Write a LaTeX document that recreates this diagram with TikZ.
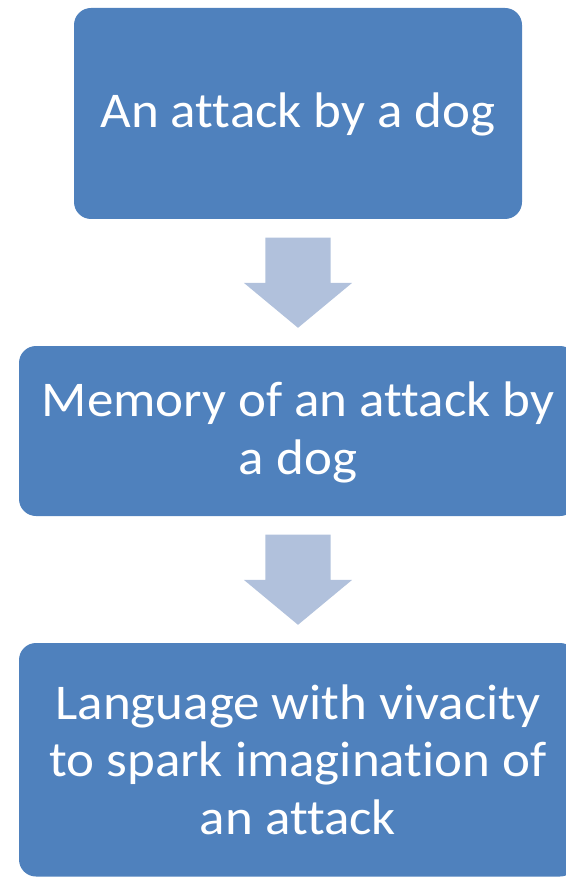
\documentclass[tikz,border=0pt]{standalone}
\usepackage{fontspec}
\setmainfont[Ligatures=NoCommon,FakeStretch=1.06]{Carlito}
\usetikzlibrary{calc}

\definecolor{boxblue}{HTML}{4F81BD}
\definecolor{arrowblue}{HTML}{B1C1DC}

% Block arrow from the bottom of one box to the top of the next
\newcommand\flowarrow[2]{%
  \fill[arrowblue] let \p1=(#1.south), \p2=(#2.north) in
    (\x1-32.6pt,\y1-18.5pt) -- (\x1+32.6pt,\y1-18.5pt) --
    (\x1+32.6pt,\y2+63pt) -- (\x1+54.2pt,\y2+63pt) --
    (\x2,\y2+18pt) --
    (\x1-54.2pt,\y2+63pt) -- (\x1-32.6pt,\y2+63pt) -- cycle;}

% Centred lines, baseline of the first line as reference
\newcommand\boxlines[1]{\begin{tabular}[t]{@{}c@{}}#1\end{tabular}}

\begin{document}
\begin{tikzpicture}[x=1pt,y=-1pt,
  stepbox/.style={rectangle, rounded corners=17pt, fill=boxblue,
    text=white, inner sep=0pt,
    font=\fontsize{50}{57.5}\selectfont}]
  \useasboundingbox (0,0) rectangle (565,877);

  \node[stepbox, minimum width=448pt, minimum height=211pt,
        text height=28.4pt, text depth=0pt]
    (b1) at (298,113.5) {\boxlines{An attack by a dog}};
  \node[stepbox, minimum width=558pt, minimum height=170pt,
        text height=0pt, text depth=28.6pt]
    (b2) at (298,431) {\boxlines{Memory of an attack by\\a dog}};
  \node[stepbox, minimum width=558pt, minimum height=233.5pt,
        text height=0pt, text depth=80.9pt]
    (b3) at (298,759.75) {\boxlines{Language with vivacity\\to spark imagination of\\an attack}};

  \flowarrow{b1}{b2}
  \flowarrow{b2}{b3}
\end{tikzpicture}
\end{document}
